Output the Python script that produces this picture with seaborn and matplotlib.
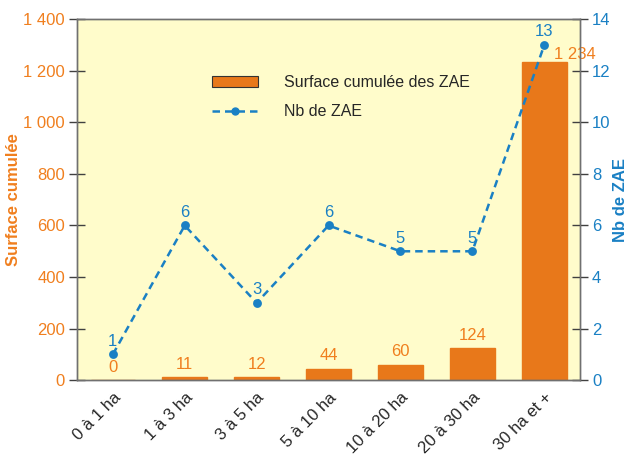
import numpy as np
import pandas as pd
import seaborn as sns
import matplotlib.pyplot as plt
from matplotlib.patches import Patch
from matplotlib.lines import Line2D
from matplotlib.ticker import FuncFormatter, FixedLocator

# Data
categories = ["0 à 1 ha", "1 à 3 ha", "3 à 5 ha", "5 à 10 ha", "10 à 20 ha", "20 à 30 ha", "30 ha et +"]
surface = [0, 11, 12, 44, 60, 124, 1234]
nb_zae = [1, 6, 3, 6, 5, 5, 13]

ORANGE = "#E8781A"
ORANGE_TXT = "#F07F1E"
BLUE = "#1A80C4"
BG = "#FFFCCB"

sns.set_style("white")
plt.rcParams["font.family"] = ["Liberation Sans", "DejaVu Sans"]

df = pd.DataFrame({"cat": categories, "surface": surface, "nb": nb_zae})

fig, ax = plt.subplots(figsize=(6.3, 4.57), dpi=100)
fig.subplots_adjust(left=0.122, right=0.921, top=0.958, bottom=0.168)
ax.set_facecolor(BG)

sns.barplot(data=df, x="cat", y="surface", color=ORANGE, width=0.62,
            saturation=1, edgecolor=ORANGE, ax=ax)
ax.set_ylim(0, 1400)
ax.set_xlim(-0.5, len(categories) - 0.5)

ax2 = ax.twinx()
sns.pointplot(data=df, x="cat", y="nb", color=BLUE, linestyle=(0, (3, 2)),
              marker="o", markersize=5, linewidth=1.8, ax=ax2)
ax2.set_ylim(0, 14)
ax2.set_xlim(-0.5, len(categories) - 0.5)

# value labels
for i, v in enumerate(surface):
    dx = 22 if i == len(surface) - 1 else 0
    dy = 0 if i == len(surface) - 1 else 4
    ax.annotate(f"{v:,}".replace(",", " "), (i, v), xytext=(dx, dy),
                textcoords="offset points", ha="center", va="bottom",
                color=ORANGE_TXT, fontsize=12)
for i, v in enumerate(nb_zae):
    ax2.annotate(str(v), (i, v), xytext=(0, 4), textcoords="offset points",
                 ha="center", va="bottom", color=BLUE, fontsize=12)

# axes styling
fmt = FuncFormatter(lambda x, p: f"{int(x):,}".replace(",", " "))
ax.yaxis.set_major_formatter(fmt)
ax.set_yticks(np.arange(0, 1401, 200))
ax2.set_yticks(np.arange(0, 15, 2))

for a in (ax, ax2):
    for s in a.spines.values():
        s.set_color("#707070")
        s.set_linewidth(1)

ax.tick_params(axis="y", direction="inout", length=11, width=1, color="#404040",
               labelcolor=ORANGE_TXT, labelsize=12, pad=3)
ax2.tick_params(axis="y", direction="inout", length=11, width=1, color="#404040",
                labelcolor=BLUE, labelsize=12, pad=3)

ax.xaxis.set_minor_locator(FixedLocator(np.arange(0.5, len(categories) - 1, 1)))
ax.tick_params(axis="x", which="major", length=0, labelsize=12, pad=7)
ax.tick_params(axis="x", which="minor", direction="inout", length=11, width=1,
               color="#404040")
plt.setp(ax.get_xticklabels(), rotation=45, ha="right", rotation_mode="anchor")
ax2.tick_params(axis="x", which="both", length=0)

ax.set_xlabel("")
ax.set_ylabel("Surface cumulée", color=ORANGE_TXT, fontsize=12, fontweight="bold",
              labelpad=2)
ax2.set_ylabel("Nb de ZAE", color=BLUE, fontsize=12, fontweight="bold", labelpad=2)

handles = [Patch(facecolor=ORANGE, edgecolor="#333333", linewidth=0.8),
           Line2D([0], [0], color=BLUE, linestyle=(0, (3, 2)), linewidth=1.8,
                  marker="o", markersize=5)]
ax2.legend(handles, ["Surface cumulée des ZAE", "Nb de ZAE"], loc="upper left",
           bbox_to_anchor=(0.24, 0.885), frameon=False, fontsize=11.5,
           handlelength=2.9, handletextpad=1.6, labelspacing=0.9)

fig.savefig("out.png", dpi=100)
